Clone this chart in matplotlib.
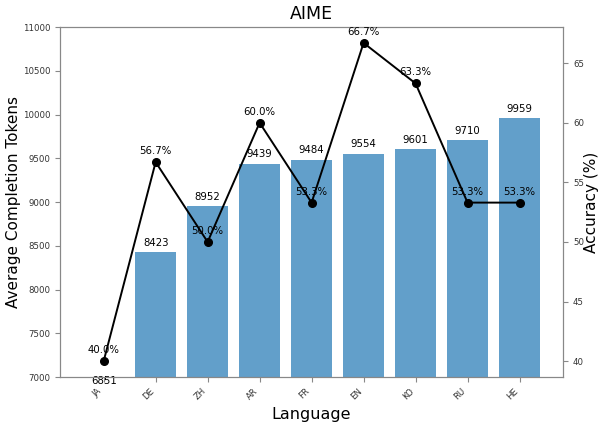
import matplotlib
matplotlib.use("Agg")
import matplotlib.pyplot as plt

languages = ["JA", "DE", "ZH", "AR", "FR", "EN", "KO", "RU", "HE"]
avg_tokens = [6851, 8423, 8952, 9439, 9484, 9554, 9601, 9710, 9959]
accuracy = [40.0, 56.7, 50.0, 60.0, 53.3, 66.7, 63.3, 53.3, 53.3]

fig, ax1 = plt.subplots(figsize=(6.03, 4.22), dpi=100)
fig.subplots_adjust(left=0.0995, right=0.934, top=0.936, bottom=0.1066)

x = range(len(languages))
bars = ax1.bar(x, avg_tokens, width=0.8, color="#1f77b4", alpha=0.7)
ax1.set_ylim(7000, 11000)
for i, v in enumerate(avg_tokens):
    ax1.text(i, v + 50, str(v), ha="center", va="bottom", fontsize=7.3)

ax1.set_xticks(list(x))
ax1.set_xticklabels(languages, rotation=45, ha="right", fontsize=6.2)
ax1.tick_params(axis="y", labelsize=6.2)
ax1.set_xlabel("Language", fontsize=11.5)
ax1.set_ylabel("Average Completion Tokens", fontsize=11, labelpad=1)
ax1.set_title("AIME", fontsize=12.5)

ax2 = ax1.twinx()
ax2.plot(list(x), accuracy, color="black", marker="o", markersize=5.5, linewidth=1.4)
for i, a in enumerate(accuracy):
    ax2.text(i, a + 0.5, f"{a:.1f}%", ha="center", va="bottom", fontsize=7.3)
ax2.tick_params(axis="y", labelsize=6.2)
ax2.set_ylabel("Accuracy (%)", fontsize=11, labelpad=0)

for ax in (ax1, ax2):
    for s in ax.spines.values():
        s.set_color("#888888")
    ax.tick_params(colors="#888888", labelcolor="#333333")

fig.savefig("out.png", dpi=100)
